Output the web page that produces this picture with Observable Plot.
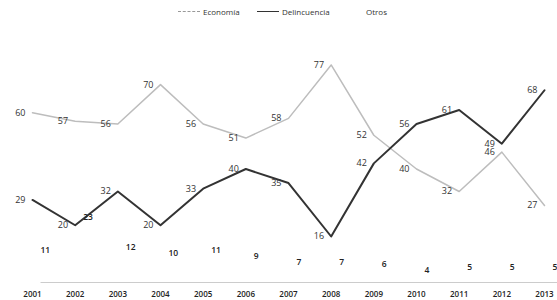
<!DOCTYPE html>
<html><head><meta charset="utf-8">
<script src="https://cdn.jsdelivr.net/npm/d3@7"></script>
<script src="https://cdn.jsdelivr.net/npm/@observablehq/plot@0.6"></script>
<style>
body{margin:0;background:#fff;font-family:"Open Sans",sans-serif;}
#legend{height:24px;position:relative;font-size:8px;color:#333;}
#legend span{position:absolute;top:6px;white-space:nowrap;}
.sw{display:inline-block;width:22px;height:0;vertical-align:middle;margin-right:3px;position:relative;top:-1px;}
</style></head><body>
<div id="legend">
<span style="left:178px"><i class="sw" style="border-top:1.3px dashed #999"></i>Economía</span>
<span style="left:257px"><i class="sw" style="border-top:1.8px solid #333"></i>Delincuencia</span>
<span style="left:366px">Otros</span>
</div>
<div id="chart"></div>
<script>
const years = [2001,2002,2003,2004,2005,2006,2007,2008,2009,2010,2011,2012,2013];
const economia = [60,57,56,70,56,51,58,77,52,40,32,46,27];
const delincuencia = [29,20,32,20,33,40,35,16,42,56,61,49,68];
const otros = [11,23,12,10,11,9,7,7,6,4,5,5,5];

const eco = years.map((y,i)=>({year:y, v:economia[i]}));
const del = years.map((y,i)=>({year:y, v:delincuencia[i]}));
const otr = years.map((y,i)=>({year:y, v:otros[i]}));

const chart = Plot.plot({
  width:557, height:276,
  marginTop:32, marginBottom:19, marginLeft:32, marginRight:13,
  style:{fontFamily:"'Open Sans',sans-serif", background:"#fff"},
  x:{domain:[2001,2013], axis:null},
  y:{domain:[0,80], axis:null},
  marks:[
    Plot.ruleY([0],{stroke:"#ccc", strokeWidth:1.2, dy:1, x1:2001.2, x2:2013.4}),
    Plot.line(eco,{x:"year", y:"v", stroke:"#bdbdbd", strokeWidth:1.5}),
    Plot.line(del,{x:"year", y:"v", stroke:"#333", strokeWidth:2}),
    Plot.text(eco,{x:"year", y:"v", text:"v", textAnchor:"end", dx:-7, fill:"#333", fontSize:9}),
    Plot.text(del,{x:"year", y:"v", text:"v", textAnchor:"end", dx:-7, fill:"#333", fontSize:9}),
    Plot.text(otr,{x:"year", y:"v", text:"v", textAnchor:"start", dx:8, fill:"#222", fontSize:8.5, fontWeight:600}),
    Plot.axisX(years,{tickSize:0, tickFormat:d=>String(d), fontSize:8, fill:"#222", fontWeight:600, tickPadding:10, label:null})
  ]
});
document.getElementById("chart").appendChild(chart);
</script>
</body></html>
